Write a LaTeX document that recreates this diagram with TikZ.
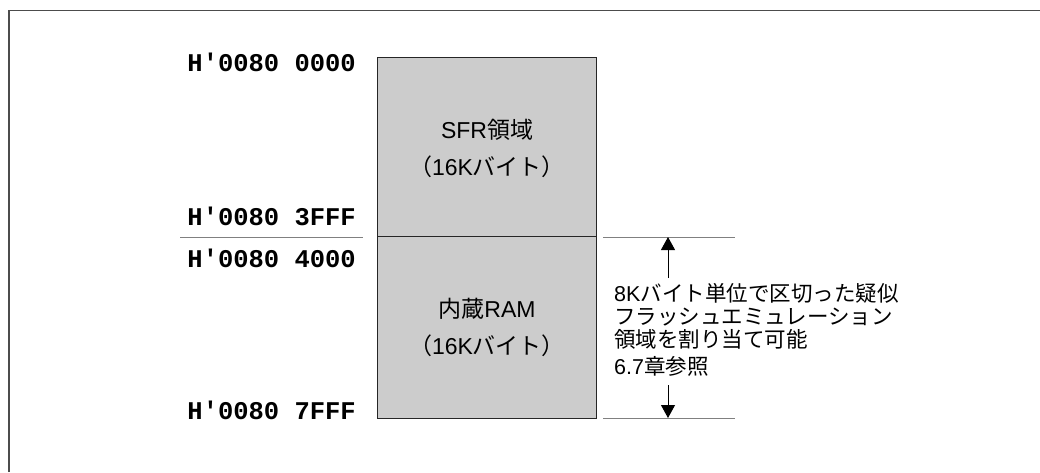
\documentclass[tikz,border=0pt]{standalone}
\usepackage{fontspec}
\setmainfont{Liberation Sans}
\newfontfamily\cjk{Noto Sans CJK JP}
\newfontfamily\addrfont{Liberation Mono}
\usetikzlibrary{arrows.meta}
\newcommand\J[1]{{\cjk #1}}
\begin{document}
\begin{tikzpicture}[x=1pt,y=-1pt,
  membox/.style={draw=black!85,line width=1.2pt,fill=black!20,minimum width=219pt,
    minimum height=181.5pt,inner sep=0pt,align=center,
    font=\fontsize{23}{37}\selectfont},
  addr/.style={anchor=base east,inner sep=0pt,font=\addrfont\bfseries\fontsize{25.5}{25}\selectfont},
  sep/.style={draw=black!50,line width=1pt},
  note/.style={anchor=north west,inner sep=0pt,align=left,font=\fontsize{21.5}{23}\selectfont},
  dimarrow/.style={draw=black,line width=1pt,-{Triangle[length=13pt,width=14pt]}},
  frame/.style={draw=black!70,line width=1.6pt}]
\useasboundingbox (0,0) rectangle (1040,472);
\draw[frame] (9,472) -- (9,10.5) -- (1040,10.5);
% boxes
\node[membox] (sfr) at (487,148) {SFR\J{領域}\\\J{（}16K\J{バイト）}};
\node[membox] (ram) at (487,327.5) {\J{内蔵}RAM\\\J{（}16K\J{バイト）}};
% addresses
\node[addr] (a0) at (356,71) {H'0080 0000};
\node[addr] (a1) at (356,225) {H'0080 3FFF};
\node[addr] (a2) at (356,267) {H'0080 4000};
\node[addr] (a3) at (356,419) {H'0080 7FFF};
% separator lines
\coordinate (ls) at (180,237);
\coordinate (le) at (363,237);
\draw[sep] (ls) -- (le);
\coordinate (rt1) at (603,237);
\coordinate (rt2) at (735,237);
\coordinate (rb1) at (603,418);
\coordinate (rb2) at (735,418);
\draw[sep] (rt1) -- (rt2);
\draw[sep] (rb1) -- (rb2);
% note
\node[note] (txt) at (614,283) {8K\J{バイト単位で区切った疑似}\\\J{フラッシュエミュレーション}\\\J{領域を割り当て可能}\\[4pt]6.7\J{章参照}};
\coordinate (atop) at (668,237);
\coordinate (abot) at (668,418);
\draw[dimarrow] (668,278) -- (atop);
\draw[dimarrow] (668,385) -- (abot);
\end{tikzpicture}
\end{document}
